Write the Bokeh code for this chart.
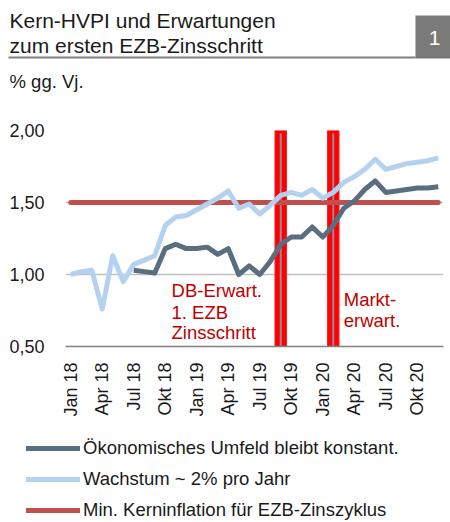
import math
from bokeh.plotting import figure
from bokeh.layouts import column
from bokeh.models import (Range1d, FixedTicker, Label, Legend, LegendItem)
from bokeh.core.properties import value
from bokeh.embed import file_html
from bokeh.resources import INLINE

# ---- data ----
title_lines = ["Kern-HVPI und Erwartungen", "zum ersten EZB-Zinsschritt"]
chart_number = "1"
unit_label = "% gg. Vj."
months = ["Jan 18", "Feb 18", "Mrz 18", "Apr 18", "Mai 18", "Jun 18", "Jul 18", "Aug 18", "Sep 18",
          "Okt 18", "Nov 18", "Dez 18", "Jan 19", "Feb 19", "Mrz 19", "Apr 19", "Mai 19", "Jun 19",
          "Jul 19", "Aug 19", "Sep 19", "Okt 19", "Nov 19", "Dez 19", "Jan 20", "Feb 20", "Mrz 20",
          "Apr 20", "Mai 20", "Jun 20", "Jul 20", "Aug 20", "Sep 20", "Okt 20", "Nov 20", "Dez 20"]
tick_labels = ["Jan 18", "Apr 18", "Jul 18", "Okt 18", "Jan 19", "Apr 19", "Jul 19", "Okt 19",
               "Jan 20", "Apr 20", "Jul 20", "Okt 20"]
wachstum = [1.00, 1.02, 1.03, 0.76, 1.13, 0.95, 1.07, 1.10, 1.13, 1.34, 1.40, 1.41,
            1.45, 1.49, 1.53, 1.58, 1.46, 1.49, 1.42, 1.48, 1.55, 1.57, 1.55, 1.59,
            1.53, 1.57, 1.64, 1.68, 1.73, 1.80, 1.73, 1.75, 1.77, 1.78, 1.79, 1.81]
konstant_start = "Jul 18"
konstant = [1.03, 1.02, 1.01, 1.18, 1.21, 1.18, 1.18, 1.19, 1.14, 1.18,
            1.00, 1.06, 1.00, 1.09, 1.21, 1.26, 1.26, 1.33, 1.26, 1.34,
            1.46, 1.51, 1.59, 1.65, 1.57, 1.58, 1.59, 1.60, 1.60, 1.61]
min_kern = [1.50] * 36
event_months = ["Sep 19", "Feb 20"]
db_text = ["DB-Erwart.", "1. EZB", "Zinsschritt"]
markt_text = ["Markt-", "erwart."]
series_names = ["Ökonomisches Umfeld bleibt konstant.", "Wachstum ~ 2% pro Jahr",
                "Min. Kerninflation für EZB-Zinszyklus"]
y_ticks = [0.5, 1.0, 1.5, 2.0]
y_tick_labels = ["0,50", "1,00", "1,50", "2,00"]

DARK = "#5a6e82"
LIGHT = "#b4d2f0"
REDL = "#c0504d"
TXT_RED = "#c00000"
TXT = "#1a1a1a"
FONT = "Liberation Sans"
W = 450


def bare(fig):
    fig.axis.visible = False
    fig.grid.visible = False
    fig.outline_line_color = None
    return fig


# ---------------- header ----------------
h = bare(figure(width=W, height=100, output_backend="svg", toolbar_location=None,
                x_range=Range1d(0, W), y_range=Range1d(100, 0), frame_align=False,
                min_border=0, min_border_left=0, min_border_right=0,
                min_border_top=0, min_border_bottom=0))
h.text(x=[9, 9], y=[20, 45], text=title_lines, text_font=value(FONT), text_font_size="21px",
       text_color=TXT, text_baseline="middle")
h.segment(x0=8, y0=57, x1=415, y1=57, line_color="#808080", line_width=2)
h.quad(left=415, right=450, top=15, bottom=58, fill_color="#7a7a7a", line_color=None)
h.text(x=[434], y=[37], text=[chart_number], text_font=value(FONT), text_font_size="21px",
       text_color="white", text_baseline="middle", text_align="center")
h.text(x=[9], y=[81], text=[unit_label], text_font=value(FONT), text_font_size="18.5px",
       text_color=TXT, text_baseline="middle")

# ---------------- main chart ----------------
xs = list(range(len(months)))
k0 = months.index(konstant_start)
p = figure(width=W, height=330, output_backend="svg", toolbar_location=None,
           x_range=Range1d(-0.5, len(months) - 0.5), y_range=Range1d(y_ticks[0], y_ticks[-1]),
           frame_align=False,
           min_border_left=65, min_border_right=7, min_border_top=30, min_border_bottom=84)
p.outline_line_color = None

p.xaxis.ticker = FixedTicker(ticks=[months.index(t) for t in tick_labels])
p.xaxis.major_label_overrides = {months.index(t): t for t in tick_labels}
p.xaxis.major_label_orientation = math.pi / 2
p.xaxis.major_tick_line_color = None
p.xaxis.minor_tick_line_color = None
p.xaxis.axis_line_color = "#808080"
p.xaxis.axis_line_width = 1.5
p.xaxis.major_label_text_font = FONT
p.xaxis.major_label_text_font_size = "18px"
p.xaxis.major_label_text_color = TXT
p.xaxis.major_label_standoff = 10

p.yaxis.ticker = FixedTicker(ticks=y_ticks)
p.yaxis.major_label_overrides = dict(zip(y_ticks, y_tick_labels))
p.yaxis.major_tick_line_color = None
p.yaxis.minor_tick_line_color = None
p.yaxis.axis_line_color = None
p.yaxis.major_label_text_font = FONT
p.yaxis.major_label_text_font_size = "18px"
p.yaxis.major_label_text_color = TXT
p.yaxis.major_label_standoff = 15

p.xgrid.grid_line_color = None
p.ygrid.ticker = FixedTicker(ticks=y_ticks[1:])
p.ygrid.grid_line_color = "#bfbfbf"
p.ygrid.grid_line_width = 1.5

for m in event_months:
    i = months.index(m)
    p.vbar(x=i, top=y_ticks[-1] + 0.01, bottom=y_ticks[0] - 0.01, width=1.1,
           fill_color="#ff0000", line_color="#ff2020", line_width=1)
    p.segment(x0=i, y0=y_ticks[0], x1=i, y1=y_ticks[-1] - 0.02, line_color="#8c8c9c", line_width=2)

r_min = p.line(xs, min_kern, line_color=REDL, line_width=5, line_cap="round")
r_w = p.line(xs, wachstum, line_color=LIGHT, line_width=5, line_join="round")
r_k = p.line(xs[k0:], konstant, line_color=DARK, line_width=5, line_join="round")

for txt, yv in zip(db_text, [0.889, 0.738, 0.599]):
    p.add_layout(Label(x=9.6, y=yv, text=txt, text_font=FONT, text_font_size="18.5px",
                       text_color=TXT_RED, text_baseline="middle"))
for txt, yv in zip(markt_text, [0.826, 0.681]):
    p.add_layout(Label(x=26.0, y=yv, text=txt, text_font=FONT, text_font_size="18.5px",
                       text_color=TXT_RED, text_baseline="middle"))

# ---------------- legend ----------------
# legend swatches: copies of the chart series, drawn outside this panel's visible range
lg = bare(figure(width=W, height=92, output_backend="svg", toolbar_location=None,
                 x_range=Range1d(1000, 1001), y_range=Range1d(1000, 1001), frame_align=False,
                 min_border=0, min_border_left=0, min_border_right=0,
                 min_border_top=0, min_border_bottom=0))
lk = lg.line(xs[k0:], konstant, line_color=DARK, line_width=5, line_cap="round")
lw = lg.line(xs, wachstum, line_color=LIGHT, line_width=5, line_cap="round")
lm = lg.line(xs, min_kern, line_color=REDL, line_width=5, line_cap="round")
legend = Legend(items=[LegendItem(label=n, renderers=[r]) for n, r in zip(series_names, [lk, lw, lm])],
                location=(26, 1))
legend.border_line_color = None
legend.background_fill_alpha = 0
legend.padding = 0
legend.margin = 0
legend.glyph_width = 54
legend.glyph_height = 20
legend.label_height = 20
legend.label_standoff = 3
legend.spacing = 9
legend.label_text_font = FONT
legend.label_text_font_size = "18.5px"
legend.label_text_color = TXT
lg.add_layout(legend)

layout = column(h, p, lg, spacing=0)
open("out.html", "w").write(file_html(layout, INLINE))
